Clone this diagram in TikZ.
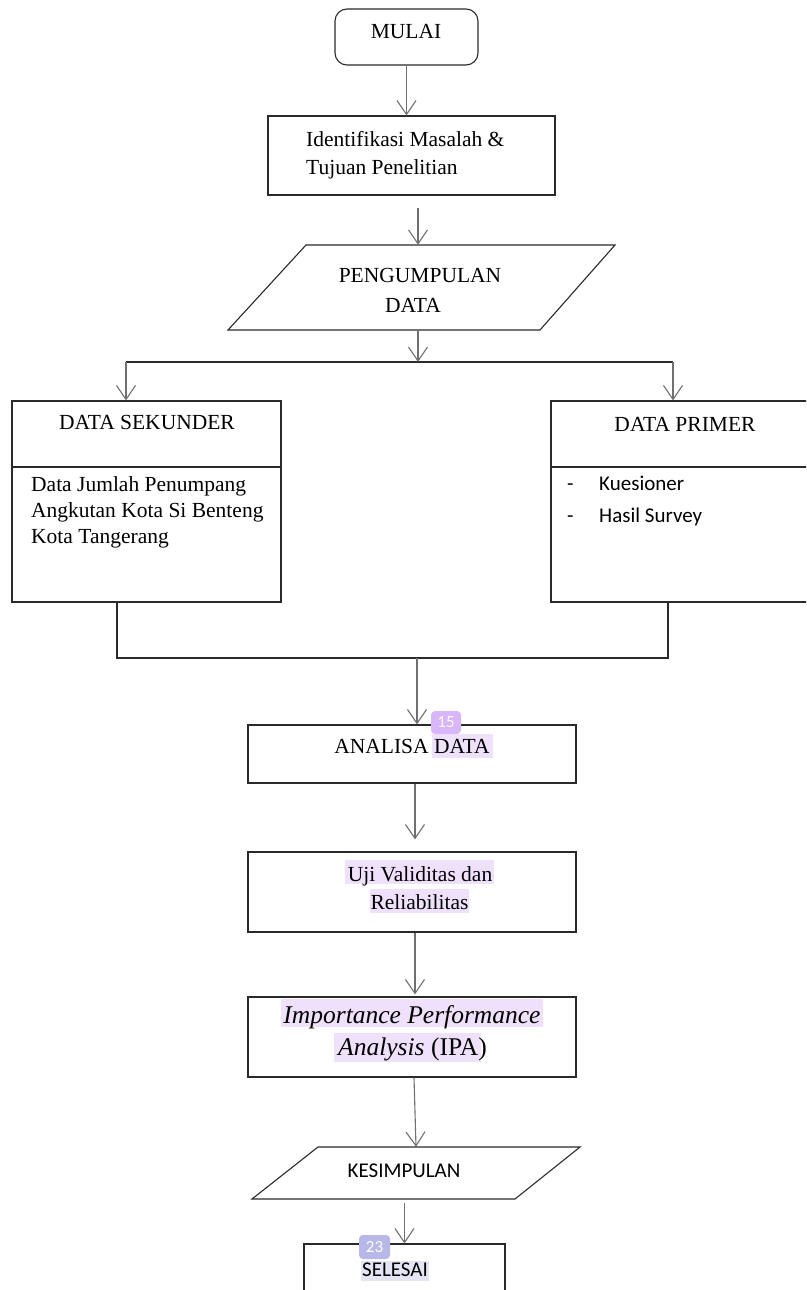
\documentclass[tikz,border=0pt]{standalone}
\usepackage{fontspec}
\setmainfont{Liberation Serif}
\newfontfamily\calibri{Carlito}
\usetikzlibrary{arrows.meta}
\definecolor{hlp}{HTML}{EFE1FB}
\definecolor{hlb}{HTML}{E4E4F5}
\definecolor{bdp}{HTML}{D8B6F8}
\definecolor{bdb}{HTML}{B8B8E8}
\definecolor{linec}{HTML}{2A2A2A}
\definecolor{arrc}{HTML}{707070}
\begin{document}
\begin{tikzpicture}[x=1pt,y=-1pt,
  box/.style={draw=linec, line width=1.1pt, inner sep=0pt},
  ghost/.style={inner sep=0pt},
  arr/.style={draw=arrc, line width=1.1pt, -{Straight Barb[length=14pt,width=19pt]}},
  ln/.style={draw=linec, line width=1.1pt},
  txt/.style={inner sep=0pt, anchor=base, font=\fontsize{21.5}{29}\selectfont},
  txtl/.style={txt, anchor=base west},
  stxt/.style={inner sep=0pt, anchor=base, font=\calibri\fontsize{21}{31}\selectfont},
  stxtl/.style={stxt, anchor=base west},
  itxt/.style={inner sep=0pt, anchor=base, font=\fontsize{25.5}{30}\selectfont},
  badge/.style={rounded corners=4pt, inner sep=0pt, text=white, font=\calibri\fontsize{17}{17}\selectfont},
]
\path[use as bounding box, clip] (0,0) rectangle (806,1290);
\fill[white] (0,0) rectangle (806,1290);

% highlights
\fill[hlp] (432,734) rectangle (493,758);
\fill[hlp] (345,860) rectangle (494,884);
\fill[hlp] (370,889) rectangle (469,913);
\fill[hlp] (281,999) rectangle (543,1027);
\fill[hlp] (334,1033) rectangle (481,1062);
\fill[hlb] (361,1261) rectangle (429,1281);

% boxes
\node[box, rounded corners=12pt, minimum width=143pt, minimum height=56pt] (mulai) at (406.5,37) {};
\node[box, minimum width=287pt, minimum height=79pt] (ident) at (411.5,155.5) {};
\draw[box] (306,245) -- (615,245) -- (540,330) -- (228,330) -- cycle;
\node[ghost, minimum width=240pt, minimum height=85pt] (pg) at (418,287.5) {};
\node[box, minimum width=269pt, minimum height=201pt] (sek) at (146.5,501.5) {};
\draw[ln] (sek.west |- 0,467) -- (sek.east |- 0,467);
\node[box, minimum width=261pt, minimum height=201pt] (pri) at (681.5,501.5) {};
\draw[ln] (pri.west |- 0,467) -- (pri.east |- 0,467);
\node[box, minimum width=328pt, minimum height=58pt] (ana) at (412,754) {};
\node[box, minimum width=328pt, minimum height=80pt] (uji) at (412,892) {};
\node[box, minimum width=328pt, minimum height=80pt] (ipa) at (412,1037) {};
\draw[box] (318,1147) -- (580,1147) -- (515,1199) -- (252,1199) -- cycle;
\node[ghost, minimum width=200pt, minimum height=52pt] (kes) at (416,1173) {};
\node[box, minimum width=201pt, minimum height=66pt] (sel) at (404.5,1277) {};

% connectors
\draw[arr] (mulai.south) -- (mulai.south |- ident.north);
\draw[arr, shorten <=12pt] (ident.south -| pg.north) -- (pg.north);
\coordinate (jl) at (126,362);
\coordinate (jr) at (673,362);
\coordinate (jm) at (418,362);
\draw[ln] (jl) -- (jr);
\draw[arr] (pg.south) -- (jm);
\draw[arr] (jl) -- (jl |- sek.north);
\draw[arr] (jr) -- (jr |- pri.north);
\coordinate (bl) at (117,658);
\coordinate (br) at (668,658);
\coordinate (bm) at (417,658);
\draw[ln] (bl |- sek.south) -- (bl) -- (br) -- (br |- pri.south);
\draw[arr] (bm) -- (bm |- ana.north);
\draw[arr, shorten >=12pt] (ana.south -| 415,0) -- (uji.north -| 415,0);
\draw[arr, shorten >=2pt] (uji.south -| 415,0) -- (ipa.north -| 415,0);
\draw[arr] (ipa.south -| 414,0) -- (kes.north);
\draw[arr, shorten <=4pt] (kes.south -| sel.north) -- (sel.north);

% texts
\node[txt] (t-mulai) at (406,39) {MULAI};
\node[txtl] (t-id1) at (306,146) {Identifikasi Masalah \&};
\node[txtl] (t-id2) at (306,174) {Tujuan Penelitian};
\node[txt] (t-pg1) at (420,282) {PENGUMPULAN};
\node[txt] (t-pg2) at (413,312) {DATA};
\node[txt] (t-sek) at (147,429) {DATA SEKUNDER};
\node[txtl] (t-sek1) at (31,491) {Data Jumlah Penumpang};
\node[txtl] (t-sek2) at (31,517) {Angkutan Kota Si Benteng};
\node[txtl] (t-sek3) at (31,543) {Kota Tangerang};
\node[txt] (t-pri) at (685,431) {DATA PRIMER};
\node[stxtl] (t-d1) at (567,490) {-};
\node[stxtl] (t-pri1) at (599,490) {Kuesioner};
\node[stxtl] (t-d2) at (567,522) {-};
\node[stxtl] (t-pri2) at (599,522) {Hasil Survey};
\node[txt] (t-ana) at (412,753) {ANALISA DATA};
\node[txt] (t-uji1) at (420,881) {Uji Validitas dan};
\node[txt] (t-uji2) at (419.5,909) {Reliabilitas};
\node[itxt] (t-ipa1) at (412,1023) {\textit{Importance Performance}};
\node[itxt] (t-ipa2) at (412.5,1055) {\textit{Analysis} (IPA)};
\node[stxt] (t-kes) at (404,1177) {KESIMPULAN};
\node[stxt] (t-sel) at (395,1276) {SELESAI};

% badges
\node[badge, fill=bdp, minimum width=30pt, minimum height=23pt] (b15) at (446,722.5) {15};
\node[badge, fill=bdb, minimum width=31pt, minimum height=24pt] (b23) at (374.5,1247) {23};
\end{tikzpicture}
\end{document}
